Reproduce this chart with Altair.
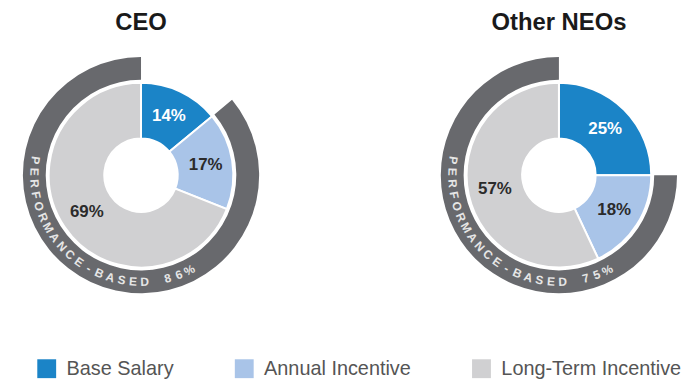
import altair as alt
import numpy as np
import pandas as pd

# ---- data ----
groups = ["CEO", "Other NEOs"]
components = ["Base Salary", "Annual Incentive", "Long-Term Incentive"]
ceo_values = [14, 17, 69]
neo_values = [25, 18, 57]
performance_based = [86, 75]
ring_caption = "PERFORMANCE-BASED"

# ---- styling ----
FONT = "Liberation Sans"
colors = ["#1B84C7", "#A9C4E8", "#D0D0D2"]
RING_COLOR = "#68696D"
RING_TEXT = "#E6E6E6"
THETA = alt.Scale(domain=[0, 100], range=[0, 2 * np.pi])
TEXT_START_DEG = 278.0   # first caption character (clockwise from 12 o'clock)
TEXT_STEP_DEG = 6.25     # letter spacing along the ring

LEGEND = alt.Legend(
    title=None, orient="none", direction="horizontal",
    legendX=29, legendY=305, padding=0,
    symbolType="square", symbolSize=361, symbolStrokeWidth=0, symbolOpacity=1,
    labelFont=FONT, labelFontSize=20, labelColor="#555555", labelLimit=300,
    labelOffset=10, columnPadding=61,
)


def panel(name, values, perf, width):
    slices = pd.DataFrame({
        "component": components,
        "value": values,
        "idx": list(range(len(components))),
        "label": [f"{v}%" for v in values],
    })
    base = alt.Chart(slices)
    theta = alt.Theta("value:Q", stack=True, scale=THETA)
    arcs = base.mark_arc(radius=93, radius2=37, stroke="white", strokeWidth=2).encode(
        theta=theta,
        order=alt.Order("idx:Q"),
        color=alt.Color("component:N",
                        scale=alt.Scale(domain=components, range=colors),
                        legend=LEGEND),
    )
    labels = base.mark_text(radius=66, fontSize=17, fontWeight="bold", font=FONT).encode(
        theta=theta,
        order=alt.Order("idx:Q"),
        text="label:N",
        color=alt.condition(alt.datum.component == "Base Salary",
                            alt.value("white"), alt.value("#2B2B2B")),
    )
    ring_df = pd.DataFrame({"start": [100 - perf], "end": [100]})
    ring = alt.Chart(ring_df).mark_arc(radius=119, radius2=96, color=RING_COLOR).encode(
        theta=alt.Theta("start:Q", stack=None, scale=THETA),
        theta2="end:Q",
    )
    caption = f"{ring_caption} {perf}%"
    chars = pd.DataFrame({"ch": list(caption), "i": list(range(len(caption)))})
    ring_text = alt.Chart(chars).transform_calculate(
        pos=f"({TEXT_START_DEG} - datum.i * {TEXT_STEP_DEG}) / 3.6",
        rot="(datum.pos * 3.6 + 180) % 360",
    ).mark_text(radius=107.5, fontSize=12, fontWeight="bold", font=FONT,
                color=RING_TEXT, align="center", baseline="middle").encode(
        theta=alt.Theta("pos:Q", stack=None, scale=THETA),
        angle=alt.Angle("rot:Q", scale=None),
        text="ch:N",
    )
    return alt.layer(ring, arcs, labels, ring_text).properties(
        width=width, height=240,
        title=alt.TitleParams(name, fontSize=24, fontWeight="bold", font=FONT,
                              color="#1A1A1A", anchor="middle", offset=21),
    )


chart = alt.hconcat(
    panel(groups[0], ceo_values, performance_based[0], 268),
    panel(groups[1], neo_values, performance_based[1], 238),
    spacing=168, bounds="flush",
).properties(
    padding={"top": 2, "left": 0, "right": 0, "bottom": 0},
    background="white",
).configure_view(stroke=None)

chart.save("out.html", embed_options={"renderer": "svg", "actions": False})
